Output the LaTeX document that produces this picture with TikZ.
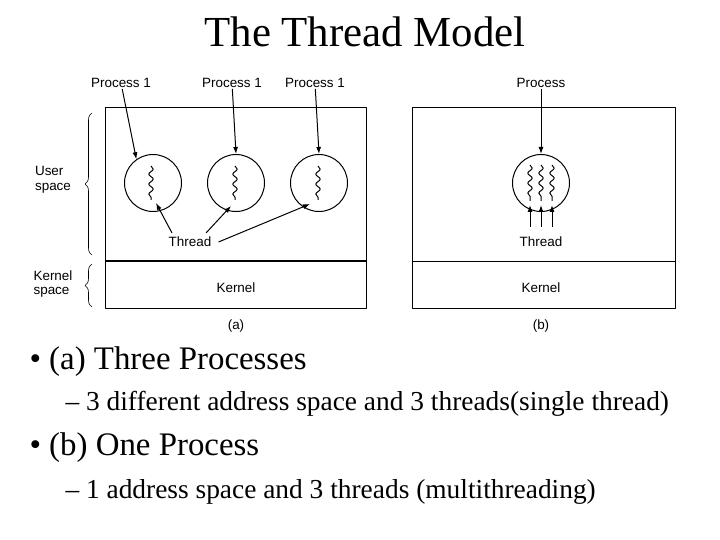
\documentclass[tikz,border=0pt]{standalone}
\usepackage{fontspec}
\setmainfont{Liberation Serif}
\newfontfamily\diagfont{Liberation Sans}
\usetikzlibrary{arrows.meta,decorations.pathmorphing,decorations.pathreplacing}
\begin{document}
\begin{tikzpicture}[x=1bp,y=-1bp,>=latex,line join=bevel,
  lbl/.style={font=\diagfont\fontsize{13.5}{15}\selectfont,inner sep=1pt},
  proc/.style={draw,circle,minimum size=57bp,inner sep=0pt,line width=1pt},
  wiggle/.style={decorate,decoration={snake,amplitude=2.2bp,segment length=10bp},line width=1pt},
  arr/.style={-{Latex[length=7bp,width=5bp]},line width=1pt},
  brace/.style={decorate,decoration={brace,amplitude=7bp},line width=0.6pt}]
\useasboundingbox (0,0) rectangle (720,540);
%%
\node (title) at (365,32) {\fontsize{43}{46}\selectfont The Thread Model};
%% (a)
\draw[line width=1pt] (105,108) rectangle (366,308);
\draw[line width=1.3pt] (105,261) -- (366,261);
\node[proc] (circ_1) at (153,183) {};
\node[proc] (circ_2) at (236,183) {};
\node[proc] (circ_3) at (319,183) {};
\foreach \x in {151,235,318}
  \draw[wiggle] (\x,166) -- (\x,200);
\node[lbl] (proc_1) at (121,83) {Process 1};
\node[lbl] (proc_2) at (232,83) {Process 1};
\node[lbl] (proc_3) at (315,83) {Process 1};
\draw[arr] (proc_1) -- (circ_1.125);
\draw[arr] (proc_2) -- (circ_2.north);
\draw[arr] (proc_3) -- (circ_3.north);
\node[lbl] (thread_a) at (190,242) {Thread};
\coordinate (t_1) at (156,203);
\coordinate (t_2) at (231,206);
\coordinate (t_3) at (310,204);
\draw[arr] (172,233) -- (t_1);
\draw[arr] (206,233) -- (t_2);
\draw[arr] (thread_a.east) ++(6,0) -- (t_3);
\node[lbl] (kernel_a) at (236,288) {Kernel};
\node[lbl] (cap_a) at (236,326) {(a)};
\node[lbl,align=left] (user) at (53,180) {User\\space};
\node[lbl,align=left] (kspace) at (53,284) {Kernel\\space};
\draw[brace] (92,255) -- (92,113);
\draw[brace] (92,307) -- (92,264);
%% (b)
\draw[line width=1pt] (412,108) rectangle (675,308);
\draw[line width=1pt] (412,261) -- (675,261);
\node[proc] (circ_b) at (541,183) {};
\foreach \x in {530,541,552}
  \draw[wiggle] (\x,165) -- (\x,201);
\foreach \x in {530,541,552}
  \draw[arr] (\x,227) -- (\x,205);
\node[lbl] (proc_b) at (541,83) {Process};
\draw[arr] (proc_b) -- (circ_b.north);
\node[lbl] (thread_b) at (541,242) {Thread};
\node[lbl] (kernel_b) at (541,288) {Kernel};
\node[lbl] (cap_b) at (541,326) {(b)};
%% bullets
\node[anchor=west] (b_1) at (26,362) {\fontsize{33}{36}\selectfont • (a) Three Processes};
\node[anchor=west] (s_1) at (62,404) {\fontsize{27.5}{30}\selectfont – 3 different address space and 3 threads(single thread)};
\node[anchor=west] (b_2) at (26,448) {\fontsize{33}{36}\selectfont • (b) One Process};
\node[anchor=west] (s_2) at (62,492) {\fontsize{27.5}{30}\selectfont – 1 address space and 3 threads (multithreading)};
%
\end{tikzpicture}
\end{document}
